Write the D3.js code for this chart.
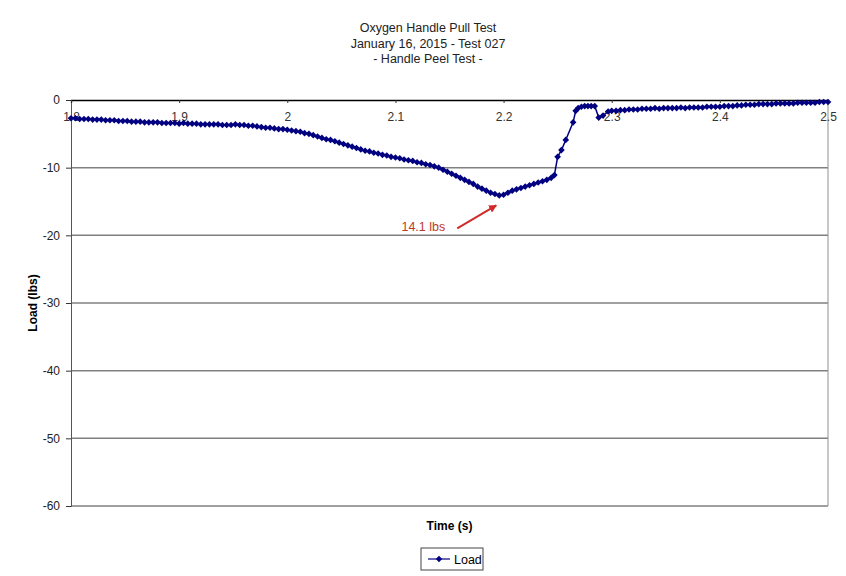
<!DOCTYPE html>
<html>
<head>
<meta charset="utf-8">
<script src="https://cdn.jsdelivr.net/npm/d3@7"></script>
<style>
    body { margin: 0; background: #fff; }
    text { font-family: "Liberation Sans", Arial, sans-serif; }
</style>
</head>
<body>
<div id="main"></div>
<script>
const ctx = {
    w: 846,
    h: 576,
    left: 71,
    right: 828,
    top: 100,
    bottom: 506
};

// chart texts
const titleLines = ["Oxygen Handle Pull Test", "January 16, 2015 - Test 027", "- Handle Peel Test -"];
const xTicks = [1.8, 1.9, 2.0, 2.1, 2.2, 2.3, 2.4, 2.5];
const xTickLabels = ["1.8", "1.9", "2", "2.1", "2.2", "2.3", "2.4", "2.5"];
const yTicks = [0, -10, -20, -30, -40, -50, -60];
const peakLabel = "14.1 lbs";
const peakTime = 2.196;
const peakLoad = -14.1;

// sample times (s)
const time = [
    1.800, 1.804, 1.808, 1.812, 1.816, 1.820, 1.824, 1.828, 1.832, 1.836,
    1.840, 1.844, 1.848, 1.852, 1.856, 1.860, 1.864, 1.868, 1.872, 1.876,
    1.880, 1.884, 1.888, 1.892, 1.896, 1.900, 1.904, 1.908, 1.912, 1.916,
    1.920, 1.924, 1.928, 1.932, 1.936, 1.940, 1.944, 1.948, 1.952, 1.956,
    1.960, 1.964, 1.968, 1.972, 1.976, 1.980, 1.984, 1.988, 1.992, 1.996,
    2.000, 2.004, 2.008, 2.012, 2.016, 2.020, 2.024, 2.028, 2.032, 2.036,
    2.040, 2.044, 2.048, 2.052, 2.056, 2.060, 2.064, 2.068, 2.072, 2.076,
    2.080, 2.084, 2.088, 2.092, 2.096, 2.100, 2.104, 2.108, 2.112, 2.116,
    2.120, 2.124, 2.128, 2.132, 2.136, 2.140, 2.144, 2.148, 2.152, 2.156,
    2.160, 2.164, 2.168, 2.172, 2.176, 2.180, 2.184, 2.188, 2.192, 2.196,
    2.200, 2.204, 2.208, 2.212, 2.216, 2.220, 2.224, 2.228, 2.232, 2.236,
    2.240, 2.244, 2.247, 2.250, 2.2535, 2.2575, 2.2643, 2.2667, 2.269, 2.272,
    2.275, 2.278, 2.281, 2.2843, 2.288, 2.292, 2.2967, 2.300,
    2.304, 2.308, 2.312, 2.316, 2.320, 2.324, 2.328, 2.332, 2.336, 2.340,
    2.344, 2.348, 2.352, 2.356, 2.360, 2.364, 2.368, 2.372, 2.376, 2.380,
    2.384, 2.388, 2.392, 2.396, 2.400, 2.404, 2.408, 2.412, 2.416, 2.420,
    2.424, 2.428, 2.432, 2.436, 2.440, 2.444, 2.448, 2.452, 2.456, 2.460,
    2.464, 2.468, 2.472, 2.476, 2.480, 2.484, 2.488, 2.492, 2.496, 2.500
];

// load (lbs)
const load = [
    -2.7, -2.7, -2.8, -2.8, -2.8, -2.9, -2.9, -2.9, -3.0, -3.0,
    -3.0, -3.1, -3.1, -3.1, -3.2, -3.2, -3.2, -3.3, -3.3, -3.3,
    -3.3, -3.4, -3.4, -3.4, -3.4, -3.5, -3.4, -3.5, -3.5, -3.5,
    -3.6, -3.6, -3.6, -3.6, -3.6, -3.7, -3.7, -3.7, -3.6, -3.7,
    -3.7, -3.8, -3.8, -3.9, -4.0, -4.1, -4.1, -4.2, -4.3, -4.3,
    -4.4, -4.5, -4.6, -4.7, -4.9, -5.0, -5.2, -5.4, -5.6, -5.8,
    -5.9, -6.1, -6.3, -6.5, -6.7, -6.9, -7.1, -7.3, -7.5, -7.6,
    -7.8, -7.9, -8.1, -8.2, -8.4, -8.5, -8.6, -8.8, -8.9, -9.0,
    -9.2, -9.3, -9.5, -9.6, -9.8, -10.0, -10.3, -10.6, -10.9, -11.2,
    -11.5, -11.8, -12.1, -12.4, -12.8, -13.1, -13.4, -13.7, -13.9, -14.1,
    -14.0, -13.7, -13.4, -13.2, -13.0, -12.8, -12.6, -12.4, -12.2, -12.0,
    -11.8, -11.5, -11.1, -8.4, -7.4, -5.9, -3.3, -1.6, -1.2, -1.0,
    -0.9, -0.9, -0.9, -0.9, -2.6, -2.3, -1.7, -1.6,
    -1.6, -1.5, -1.5, -1.4, -1.4, -1.4, -1.3, -1.3, -1.3, -1.2,
    -1.3, -1.2, -1.2, -1.2, -1.2, -1.1, -1.2, -1.1, -1.1, -1.1,
    -1.1, -1.0, -1.0, -1.0, -1.0, -0.9, -0.9, -0.9, -0.8, -0.8,
    -0.7, -0.7, -0.7, -0.6, -0.6, -0.6, -0.6, -0.5, -0.5, -0.5,
    -0.5, -0.5, -0.4, -0.4, -0.4, -0.4, -0.4, -0.3, -0.3, -0.3
];

//==============================================================================================
function drawChart(svg) {
    const data = time.map((t, i) => ({ t: t, v: load[i] }));

    const x = d3.scaleLinear().domain([1.8, 2.5]).range([ctx.left, ctx.right]);
    const y = d3.scaleLinear().domain([-60, 0]).range([ctx.bottom, ctx.top]);

    // title
    svg.append("g")
        .selectAll("text")
        .data(titleLines)
        .enter().append("text")
        .attr("x", 428)
        .attr("y", (d, i) => 32 + i * 15.5)
        .attr("text-anchor", "middle")
        .attr("font-size", "12.5px")
        .attr("fill", "#222")
        .text(d => d);

    // horizontal gridlines
    svg.append("g")
        .selectAll("line")
        .data(yTicks.filter(d => d < 0))
        .enter().append("line")
        .attr("x1", ctx.left)
        .attr("x2", ctx.right)
        .attr("y1", d => y(d))
        .attr("y2", d => y(d))
        .attr("stroke", "#808080")
        .attr("stroke-width", 1.5);

    // right border
    svg.append("line")
        .attr("x1", ctx.right).attr("x2", ctx.right)
        .attr("y1", ctx.top).attr("y2", ctx.bottom)
        .attr("stroke", "#909090")
        .attr("stroke-width", 1);

    // y axis
    const yAxis = svg.append("g")
        .attr("transform", `translate(${ctx.left},0)`)
        .call(d3.axisLeft(y).tickValues(yTicks).tickSize(5).tickPadding(6).tickFormat(d => String(d)));
    yAxis.select(".domain").attr("stroke", "#555");
    yAxis.selectAll(".tick line").attr("stroke", "#333");
    yAxis.selectAll("text")
        .attr("font-size", "12px")
        .attr("font-family", "Liberation Sans, Arial, sans-serif")
        .attr("fill", "#222");

    // x axis along load = 0
    const xAxis = svg.append("g")
        .attr("transform", `translate(0,${y(0)})`)
        .call(d3.axisBottom(x).tickValues(xTicks).tickSize(3).tickPadding(9)
            .tickFormat((d, i) => xTickLabels[i]));
    xAxis.select(".domain").attr("stroke", "#000").attr("stroke-width", 1.3);
    xAxis.selectAll(".tick line").attr("stroke", "#333");
    xAxis.selectAll("text")
        .attr("font-size", "12px")
        .attr("font-family", "Liberation Sans, Arial, sans-serif")
        .attr("fill", "#333");

    // axis titles
    svg.append("text")
        .attr("x", (ctx.left + ctx.right) / 2)
        .attr("y", 530)
        .attr("text-anchor", "middle")
        .attr("font-size", "12px")
        .attr("font-weight", "bold")
        .text("Time (s)");

    svg.append("text")
        .attr("transform", `translate(37,${(ctx.top + ctx.bottom) / 2}) rotate(-90)`)
        .attr("text-anchor", "middle")
        .attr("font-size", "12px")
        .attr("font-weight", "bold")
        .text("Load (lbs)");

    // series
    const line = d3.line().x(d => x(d.t)).y(d => y(d.v));
    svg.append("path")
        .datum(data)
        .attr("d", line)
        .attr("fill", "none")
        .attr("stroke", "#000080")
        .attr("stroke-width", 1.5);

    const diamond = d3.symbol().type(d3.symbolSquare).size(22);
    svg.append("g")
        .selectAll("path")
        .data(data)
        .enter().append("path")
        .attr("d", diamond)
        .attr("transform", d => `translate(${x(d.t)},${y(d.v)}) rotate(45)`)
        .attr("fill", "#000080");

    // annotation of the peak
    svg.append("defs").append("marker")
        .attr("id", "arrow")
        .attr("viewBox", "0 0 10 10")
        .attr("refX", 9).attr("refY", 5)
        .attr("markerWidth", 4).attr("markerHeight", 4)
        .attr("orient", "auto")
        .append("path")
        .attr("d", "M0,0 L10,5 L0,10 z")
        .attr("fill", "#d02a2a");

    svg.append("line")
        .attr("x1", x(peakTime) - 42)
        .attr("y1", y(peakLoad) + 33)
        .attr("x2", x(peakTime) - 3)
        .attr("y2", y(peakLoad) + 10)
        .attr("stroke", "#d02a2a")
        .attr("stroke-width", 2)
        .attr("marker-end", "url(#arrow)");

    svg.append("text")
        .attr("x", x(peakTime) - 54)
        .attr("y", y(peakLoad) + 36)
        .attr("text-anchor", "end")
        .attr("font-size", "12.5px")
        .attr("fill", "#c0392b")
        .text(peakLabel);

    // legend
    const legend = svg.append("g").attr("transform", "translate(421,548)");
    legend.append("rect")
        .attr("width", 62).attr("height", 22)
        .attr("fill", "#fff")
        .attr("stroke", "#444");
    legend.append("line")
        .attr("x1", 7).attr("x2", 29)
        .attr("y1", 11).attr("y2", 11)
        .attr("stroke", "#000080").attr("stroke-width", 1.2);
    legend.append("path")
        .attr("d", d3.symbol().type(d3.symbolSquare).size(20))
        .attr("transform", "translate(18,11) rotate(45)")
        .attr("fill", "#000080");
    legend.append("text")
        .attr("x", 33).attr("y", 15.5)
        .attr("font-size", "12.5px")
        .text("Load");
}

function createViz() {
    const svgEl = d3.select("#main").append("svg")
        .attr("width", ctx.w)
        .attr("height", ctx.h);
    const rootG = svgEl.append("g").attr("id", "rootG");
    drawChart(rootG);
}

createViz();
</script>
</body>
</html>
